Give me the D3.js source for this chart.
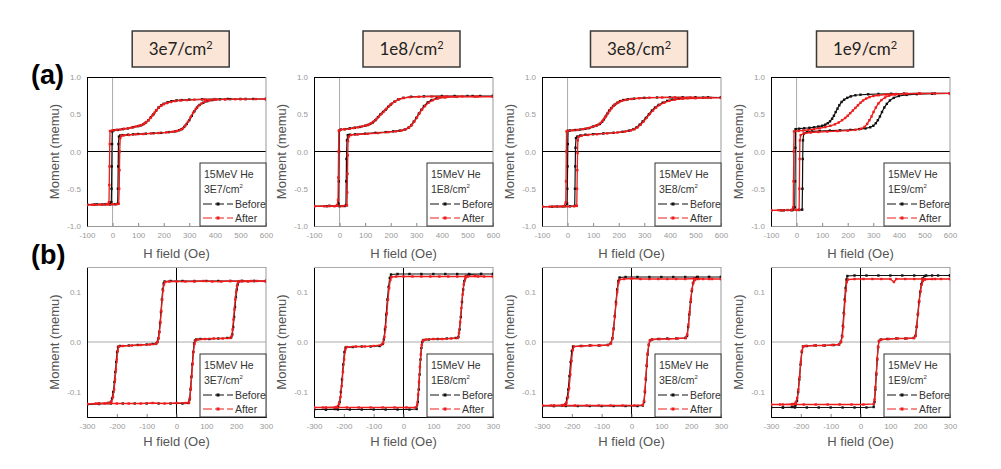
<!DOCTYPE html>
<html><head><meta charset="utf-8">
<script src="https://cdn.jsdelivr.net/npm/d3@7"></script>
<style>body{margin:0;background:#fff;} svg{display:block;font-family:Arial,"Liberation Sans",sans-serif;}</style>
</head><body><svg id="c" width="1001" height="469"></svg>
<script>
// ---------- labels ----------
const doseHeaders = ["3e7", "1e8", "3e8", "1e9"];
const doseLegend = ["3E7", "1E8", "3E8", "1E9"];
const seriesNames = ["Before", "After"];
const beamLabel = "15MeV He";
const rowLabels = ["(a)", "(b)"];
const topXTicks = [-100, 0, 100, 200, 300, 400, 500, 600];
const topYTicks = [1.0, 0.5, 0.0, -0.5, -1.0];
const botXTicks = [-300, -200, -100, 0, 100, 200, 300];
const botYTicks = [0.1, 0.0, -0.1];

// ---------- (a) minor loops: [H (Oe), M (memu)] ----------
const a1Before = [[600,0.705],[550,0.705],[500,0.705],[450,0.705],[400,0.703],[350,0.70],[300,0.697],[270,0.69],[250,0.685],[230,0.675],[215,0.66],[200,0.64],[190,0.62],[180,0.59],[170,0.55],[160,0.50],[150,0.46],[140,0.42],[130,0.39],[120,0.365],[110,0.35],[100,0.34],[80,0.325],[60,0.31],[40,0.30],[20,0.29],[5,0.285],[-1,0.27],[-2,0.1],[-3,-0.2],[-4,-0.5],[-5,-0.68],[-10,-0.705],[-30,-0.71],[-60,-0.71],[-100,-0.712],
[-100,-0.712],[-70,-0.71],[-40,-0.71],[-10,-0.71],[10,-0.708],[20,-0.70],[21,-0.5],[22,-0.2],[23,0.1],[25,0.2],[30,0.215],[40,0.22],[60,0.225],[80,0.23],[100,0.235],[130,0.24],[160,0.245],[190,0.25],[220,0.26],[245,0.27],[260,0.285],[270,0.30],[280,0.33],[290,0.37],[300,0.42],[310,0.48],[320,0.54],[330,0.59],[340,0.625],[355,0.655],[370,0.675],[390,0.69],[420,0.70],[460,0.703],[520,0.705],[600,0.705]];
const a1After = [[600,0.703],[560,0.704],[520,0.703],[480,0.702],[440,0.70],[400,0.70],[360,0.698],[320,0.695],[290,0.69],[265,0.685],[245,0.677],[228,0.665],[212,0.65],[200,0.635],[190,0.615],[180,0.585],[172,0.555],[164,0.52],[156,0.485],[148,0.45],[140,0.42],[132,0.395],[124,0.375],[114,0.355],[104,0.345],[90,0.335],[75,0.322],[60,0.312],[45,0.305],[30,0.295],[15,0.29],[0,0.285],[-10,0.275],[-11,0.1],[-12,-0.2],[-13,-0.45],[-14,-0.68],[-20,-0.705],[-40,-0.712],[-70,-0.715],[-100,-0.718],
[-100,-0.718],[-80,-0.715],[-50,-0.712],[-20,-0.712],[0,-0.71],[15,-0.708],[24,-0.70],[26,-0.5],[27,-0.25],[28,0.0],[30,0.18],[34,0.21],[45,0.218],[65,0.222],[90,0.23],[120,0.235],[150,0.242],[180,0.248],[210,0.256],[235,0.265],[252,0.275],[265,0.29],[275,0.31],[285,0.35],[295,0.40],[305,0.46],[315,0.52],[325,0.57],[335,0.61],[348,0.645],[362,0.67],[380,0.687],[405,0.697],[440,0.70],[500,0.703],[600,0.705]];

const a2Before = [[600,0.745],[550,0.745],[500,0.745],[450,0.745],[400,0.745],[330,0.74],[280,0.735],[250,0.72],[230,0.70],[215,0.67],[200,0.63],[190,0.60],[180,0.56],[170,0.53],[160,0.50],[150,0.46],[140,0.42],[130,0.39],[120,0.37],[110,0.355],[100,0.345],[80,0.33],[60,0.32],[40,0.31],[20,0.30],[5,0.295],[-1,0.28],[-2,0.0],[-3,-0.4],[-4,-0.7],[-10,-0.725],[-40,-0.73],[-100,-0.735],
[-100,-0.735],[-50,-0.735],[0,-0.735],[20,-0.732],[25,-0.72],[26,-0.4],[27,-0.1],[29,0.15],[32,0.22],[40,0.225],[60,0.23],[100,0.24],[140,0.25],[180,0.26],[210,0.27],[235,0.28],[255,0.295],[270,0.32],[280,0.35],[290,0.40],[300,0.45],[310,0.51],[320,0.56],[330,0.61],[345,0.66],[360,0.69],[380,0.715],[410,0.73],[450,0.74],[520,0.745],[600,0.745]];
const a2After = [[600,0.735],[540,0.738],[480,0.74],[420,0.74],[360,0.738],[310,0.735],[275,0.73],[250,0.718],[232,0.70],[218,0.675],[205,0.645],[194,0.61],[184,0.575],[174,0.54],[164,0.505],[154,0.47],[144,0.435],[134,0.405],[124,0.38],[114,0.362],[102,0.348],[88,0.336],[72,0.325],[55,0.315],[38,0.305],[20,0.298],[5,0.292],[-3,0.28],[-4,0.0],[-5,-0.35],[-6,-0.65],[-10,-0.725],[-40,-0.732],[-100,-0.735],
[-100,-0.735],[-60,-0.735],[-20,-0.735],[10,-0.733],[29,-0.725],[30,-0.55],[31,-0.3],[32,-0.05],[33,0.14],[36,0.2],[45,0.222],[70,0.228],[110,0.238],[150,0.248],[190,0.26],[220,0.27],[242,0.28],[260,0.3],[272,0.325],[283,0.36],[293,0.405],[303,0.46],[313,0.515],[323,0.565],[334,0.61],[348,0.655],[365,0.69],[385,0.712],[415,0.727],[460,0.733],[530,0.735],[600,0.735]];

const a3Before = [[600,0.725],[550,0.727],[500,0.728],[450,0.728],[400,0.727],[350,0.725],[300,0.72],[260,0.71],[235,0.70],[218,0.69],[205,0.675],[195,0.655],[185,0.63],[178,0.61],[170,0.58],[163,0.55],[156,0.51],[149,0.47],[142,0.43],[135,0.40],[126,0.37],[114,0.35],[100,0.335],[85,0.315],[70,0.305],[50,0.295],[30,0.288],[10,0.282],[2,0.278],[1,0.1],[0,-0.2],[-1,-0.5],[-2,-0.7],[-10,-0.735],[-40,-0.738],[-100,-0.74],
[-100,-0.74],[-60,-0.74],[-20,-0.738],[10,-0.736],[28,-0.73],[29,-0.5],[30,-0.2],[31,0.05],[33,0.18],[38,0.2],[50,0.215],[70,0.225],[100,0.232],[140,0.242],[180,0.252],[215,0.265],[240,0.28],[258,0.3],[270,0.325],[282,0.36],[294,0.405],[306,0.45],[318,0.5],[330,0.55],[342,0.59],[356,0.625],[372,0.655],[390,0.68],[410,0.698],[435,0.71],[470,0.718],[530,0.723],[600,0.725]];
const a3After = [[600,0.72],[540,0.722],[480,0.725],[420,0.726],[370,0.725],[320,0.722],[280,0.715],[250,0.705],[228,0.693],[212,0.68],[200,0.662],[190,0.64],[181,0.615],[173,0.585],[166,0.555],[159,0.52],[152,0.485],[145,0.45],[138,0.415],[130,0.385],[120,0.36],[108,0.343],[94,0.328],[78,0.312],[60,0.3],[40,0.29],[20,0.284],[0,0.278],[-4,0.27],[-5,0.0],[-6,-0.4],[-7,-0.68],[-15,-0.735],[-50,-0.738],[-100,-0.742],
[-100,-0.742],[-70,-0.74],[-30,-0.738],[0,-0.737],[25,-0.735],[36,-0.73],[37,-0.5],[38,-0.25],[39,-0.02],[40,0.15],[43,0.195],[55,0.212],[80,0.222],[115,0.232],[155,0.243],[195,0.255],[225,0.268],[247,0.282],[262,0.3],[274,0.325],[286,0.36],[298,0.405],[310,0.455],[322,0.505],[334,0.55],[346,0.59],[360,0.625],[378,0.655],[398,0.68],[420,0.697],[450,0.708],[500,0.715],[560,0.72],[600,0.72]];

const a4Before = [[600,0.78],[540,0.78],[480,0.78],[420,0.778],[370,0.775],[320,0.772],[280,0.768],[250,0.762],[230,0.755],[212,0.74],[198,0.72],[186,0.695],[176,0.665],[167,0.62],[160,0.575],[153,0.53],[146,0.48],[139,0.44],[131,0.405],[122,0.38],[112,0.36],[100,0.345],[85,0.335],[68,0.325],[50,0.318],[30,0.312],[10,0.306],[-4,0.3],[-5,0.05],[-6,-0.4],[-7,-0.75],[-15,-0.785],[-50,-0.79],[-100,-0.792],
[-100,-0.792],[-60,-0.79],[-20,-0.788],[10,-0.785],[22,-0.78],[23,-0.5],[24,-0.1],[25,0.15],[28,0.24],[40,0.26],[60,0.27],[90,0.275],[130,0.28],[170,0.285],[210,0.29],[245,0.3],[270,0.31],[288,0.325],[300,0.345],[310,0.38],[318,0.42],[326,0.47],[334,0.53],[343,0.59],[353,0.64],[365,0.685],[380,0.72],[400,0.745],[430,0.76],[470,0.77],[530,0.775],[600,0.78]];
const a4After = [[600,0.78],[540,0.78],[480,0.779],[430,0.777],[390,0.772],[350,0.765],[320,0.755],[300,0.745],[285,0.73],[272,0.71],[260,0.685],[250,0.655],[240,0.62],[230,0.585],[220,0.55],[210,0.515],[200,0.48],[190,0.45],[178,0.42],[165,0.39],[150,0.365],[132,0.345],[112,0.328],[90,0.312],[68,0.3],[46,0.29],[26,0.282],[8,0.276],[-10,0.27],[-11,0.0],[-12,-0.4],[-13,-0.75],[-20,-0.785],[-55,-0.79],[-100,-0.79],
[-100,-0.79],[-70,-0.788],[-35,-0.786],[0,-0.784],[10,-0.78],[11,-0.5],[12,-0.1],[13,0.15],[16,0.22],[30,0.245],[55,0.255],[85,0.262],[120,0.268],[160,0.274],[200,0.28],[230,0.29],[252,0.305],[266,0.33],[276,0.37],[285,0.42],[293,0.47],[301,0.53],[310,0.59],[320,0.645],[332,0.69],[346,0.725],[362,0.75],[385,0.765],[420,0.775],[480,0.778],[600,0.78]];

// ---------- (b) major loops ----------
const b1Before = [[300,0.122],[260,0.122],[220,0.122],[180,0.122],[140,0.122],[100,0.122],[60,0.122],[20,0.122],[-20,0.122],[-40,0.121],[-43,0.117],[-46,0.105],[-49,0.085],[-52,0.06],[-55,0.038],[-58,0.02],[-61,0.007],[-64,0.0],[-68,-0.003],[-80,-0.004],[-100,-0.005],[-130,-0.006],[-160,-0.007],[-190,-0.008],[-196,-0.01],[-199,-0.02],[-202,-0.04],[-205,-0.06],[-208,-0.08],[-212,-0.1],[-216,-0.113],[-220,-0.12],[-230,-0.122],[-260,-0.123],[-300,-0.125],
[-300,-0.125],[-260,-0.124],[-220,-0.123],[-180,-0.123],[-140,-0.123],[-100,-0.123],[-60,-0.123],[-20,-0.123],[20,-0.123],[40,-0.122],[44,-0.115],[47,-0.095],[50,-0.07],[53,-0.045],[56,-0.02],[59,-0.003],[62,0.003],[66,0.005],[80,0.006],[110,0.006],[140,0.007],[170,0.008],[183,0.009],[187,0.015],[190,0.03],[193,0.05],[196,0.07],[199,0.09],[202,0.105],[205,0.115],[209,0.121],[220,0.122],[260,0.122],[300,0.122]];
const b1After = [[300,0.121],[270,0.122],[240,0.121],[210,0.121],[180,0.122],[150,0.121],[120,0.121],[90,0.122],[60,0.121],[30,0.121],[0,0.121],[-25,0.121],[-38,0.12],[-42,0.115],[-45,0.103],[-48,0.085],[-51,0.062],[-54,0.04],[-57,0.02],[-60,0.008],[-64,0.0],[-70,-0.004],[-90,-0.005],[-120,-0.006],[-150,-0.007],[-180,-0.008],[-194,-0.009],[-197,-0.018],[-200,-0.035],[-203,-0.055],[-206,-0.075],[-209,-0.095],[-213,-0.11],[-218,-0.119],[-228,-0.122],[-260,-0.123],[-300,-0.124],
[-300,-0.124],[-270,-0.123],[-240,-0.123],[-200,-0.123],[-160,-0.123],[-120,-0.123],[-80,-0.122],[-40,-0.123],[0,-0.122],[30,-0.122],[42,-0.121],[45,-0.112],[48,-0.092],[51,-0.068],[54,-0.043],[57,-0.02],[60,-0.004],[64,0.003],[72,0.005],[95,0.006],[125,0.007],[155,0.007],[180,0.008],[185,0.012],[188,0.025],[191,0.045],[194,0.065],[197,0.085],[200,0.1],[203,0.112],[207,0.12],[215,0.122],[250,0.122],[300,0.122]];

const b2Before = [[300,0.136],[260,0.136],[220,0.136],[180,0.136],[140,0.136],[100,0.136],[60,0.136],[20,0.136],[-20,0.136],[-42,0.135],[-46,0.128],[-50,0.11],[-54,0.085],[-58,0.055],[-62,0.025],[-66,0.005],[-70,-0.004],[-80,-0.008],[-110,-0.009],[-140,-0.009],[-170,-0.01],[-194,-0.011],[-198,-0.02],[-202,-0.045],[-206,-0.075],[-210,-0.1],[-214,-0.12],[-219,-0.13],[-230,-0.134],[-260,-0.135],[-300,-0.135],
[-300,-0.135],[-260,-0.135],[-220,-0.135],[-180,-0.135],[-140,-0.135],[-100,-0.135],[-60,-0.135],[-20,-0.135],[20,-0.135],[44,-0.134],[48,-0.12],[51,-0.095],[54,-0.065],[57,-0.035],[60,-0.012],[63,0.0],[67,0.004],[85,0.005],[115,0.006],[145,0.007],[175,0.008],[184,0.01],[188,0.025],[192,0.05],[196,0.08],[200,0.105],[204,0.122],[209,0.132],[220,0.135],[260,0.136],[300,0.136]];
const b2After = [[300,0.131],[270,0.131],[240,0.132],[210,0.131],[180,0.131],[150,0.131],[120,0.131],[90,0.131],[60,0.131],[30,0.131],[0,0.131],[-25,0.131],[-40,0.13],[-44,0.124],[-48,0.108],[-52,0.085],[-56,0.058],[-60,0.03],[-64,0.01],[-68,-0.002],[-75,-0.006],[-100,-0.008],[-130,-0.009],[-160,-0.009],[-190,-0.01],[-195,-0.015],[-199,-0.035],[-203,-0.06],[-207,-0.088],[-211,-0.11],[-216,-0.124],[-225,-0.13],[-260,-0.131],[-300,-0.131],
[-300,-0.131],[-270,-0.131],[-230,-0.131],[-190,-0.131],[-150,-0.131],[-110,-0.131],[-70,-0.131],[-30,-0.131],[10,-0.131],[40,-0.131],[46,-0.125],[49,-0.105],[52,-0.08],[55,-0.05],[58,-0.025],[61,-0.006],[65,0.003],[75,0.005],[100,0.006],[130,0.006],[160,0.007],[182,0.008],[186,0.018],[190,0.04],[194,0.068],[198,0.095],[202,0.115],[207,0.127],[215,0.131],[250,0.131],[300,0.131]];

const b3Before = [[300,0.13],[260,0.13],[220,0.13],[180,0.13],[140,0.13],[100,0.13],[60,0.13],[20,0.13],[-20,0.13],[-40,0.129],[-44,0.122],[-48,0.105],[-52,0.08],[-56,0.052],[-60,0.027],[-64,0.008],[-69,-0.002],[-80,-0.006],[-110,-0.007],[-140,-0.007],[-170,-0.008],[-196,-0.009],[-200,-0.018],[-204,-0.04],[-208,-0.068],[-212,-0.095],[-216,-0.113],[-221,-0.124],[-232,-0.127],[-260,-0.128],[-300,-0.128],
[-300,-0.128],[-260,-0.128],[-220,-0.128],[-180,-0.128],[-140,-0.128],[-100,-0.128],[-60,-0.128],[-20,-0.128],[20,-0.128],[38,-0.127],[42,-0.12],[45,-0.1],[48,-0.075],[51,-0.048],[54,-0.025],[58,-0.006],[62,0.003],[68,0.005],[90,0.006],[120,0.007],[150,0.007],[180,0.008],[186,0.012],[190,0.03],[194,0.055],[198,0.08],[202,0.102],[206,0.118],[211,0.127],[222,0.13],[260,0.13],[300,0.13]];
const b3After = [[300,0.126],[270,0.126],[240,0.126],[210,0.127],[180,0.126],[150,0.126],[120,0.126],[90,0.126],[60,0.126],[30,0.126],[0,0.127],[-25,0.126],[-40,0.125],[-44,0.118],[-48,0.1],[-52,0.076],[-56,0.05],[-60,0.025],[-64,0.007],[-69,-0.003],[-78,-0.006],[-105,-0.007],[-135,-0.007],[-165,-0.008],[-193,-0.009],[-197,-0.016],[-201,-0.038],[-205,-0.065],[-209,-0.092],[-213,-0.11],[-218,-0.122],[-228,-0.126],[-260,-0.127],[-300,-0.127],
[-300,-0.127],[-270,-0.127],[-230,-0.127],[-190,-0.127],[-150,-0.127],[-110,-0.127],[-70,-0.127],[-30,-0.127],[10,-0.127],[38,-0.126],[42,-0.118],[45,-0.098],[48,-0.072],[51,-0.046],[54,-0.023],[58,-0.005],[62,0.003],[70,0.005],[95,0.006],[125,0.006],[155,0.007],[182,0.008],[187,0.015],[191,0.035],[195,0.06],[199,0.085],[203,0.105],[207,0.118],[212,0.124],[225,0.126],[260,0.126],[300,0.126]];

const b4Before = [[300,0.133],[260,0.133],[220,0.133],[180,0.133],[140,0.133],[100,0.133],[60,0.133],[20,0.133],[-20,0.133],[-44,0.132],[-47,0.125],[-50,0.108],[-53,0.085],[-56,0.058],[-59,0.032],[-62,0.012],[-66,0.0],[-72,-0.005],[-90,-0.006],[-120,-0.007],[-150,-0.007],[-180,-0.008],[-193,-0.009],[-197,-0.02],[-201,-0.045],[-205,-0.075],[-209,-0.1],[-213,-0.118],[-218,-0.127],[-230,-0.13],[-260,-0.131],[-300,-0.131],
[-300,-0.131],[-260,-0.131],[-220,-0.131],[-180,-0.131],[-140,-0.131],[-100,-0.131],[-60,-0.131],[-20,-0.131],[20,-0.131],[44,-0.13],[47,-0.12],[50,-0.095],[53,-0.065],[56,-0.035],[59,-0.01],[62,0.002],[68,0.005],[90,0.006],[120,0.007],[150,0.007],[178,0.008],[184,0.012],[188,0.03],[192,0.055],[196,0.08],[200,0.1],[204,0.116],[208,0.127],[215,0.132],[240,0.133],[300,0.133]];
const b4After = [[300,0.126],[270,0.126],[240,0.126],[210,0.126],[180,0.126],[150,0.126],[120,0.126],[112,0.12],[100,0.126],[70,0.126],[40,0.126],[10,0.126],[-20,0.126],[-42,0.125],[-46,0.12],[-49,0.103],[-52,0.082],[-55,0.056],[-58,0.03],[-61,0.011],[-65,0.0],[-72,-0.005],[-95,-0.006],[-125,-0.007],[-155,-0.007],[-185,-0.008],[-192,-0.009],[-196,-0.018],[-200,-0.04],[-204,-0.07],[-208,-0.095],[-212,-0.112],[-217,-0.121],[-228,-0.124],[-260,-0.125],[-300,-0.125],
[-300,-0.125],[-270,-0.125],[-230,-0.125],[-190,-0.125],[-150,-0.125],[-110,-0.125],[-70,-0.125],[-30,-0.125],[10,-0.125],[44,-0.124],[47,-0.115],[50,-0.09],[53,-0.062],[56,-0.033],[59,-0.01],[62,0.002],[70,0.005],[95,0.006],[125,0.007],[155,0.007],[180,0.008],[185,0.013],[189,0.032],[193,0.057],[197,0.082],[201,0.102],[205,0.115],[209,0.122],[216,0.125],[250,0.126],[300,0.126]];

// ---------- drawing ----------
const svg = d3.select("#c");
const panelX = [87, 314, 542, 771];
const PW = 179;
const BLACK = "#111", RED = "#ee1c1c";

const rows = [
  {y: 77, h: 149, xd: [-100, 600], yd: [-1, 1], xt: topXTicks, yt: topYTicks,
   data: [[a1Before, a1After], [a2Before, a2After], [a3Before, a3After], [a4Before, a4After]],
   hLineColor: "#000", vLineColor: "#aaa", topC: "#000", botC: "#999", titleY: 258, labY: 84},
  {y: 267, h: 150, xd: [-300, 300], yd: [-0.15, 0.15], xt: botXTicks, yt: botYTicks,
   data: [[b1Before, b1After], [b2Before, b2After], [b3Before, b3After], [b4Before, b4After]],
   hLineColor: "#aaa", vLineColor: "#000", topC: "#aaa", botC: "#000", titleY: 446, labY: 264}
];

// header boxes
const headerCx = [180.7, 411.5, 639, 865];
doseHeaders.forEach((d, i) => {
  const g = svg.append("g").attr("transform", `translate(${headerCx[i] - 48.5},31)`);
  g.append("rect").attr("width", 97).attr("height", 36).attr("fill", "#fbe5d6")
    .attr("stroke", "#3a3a3a").attr("stroke-width", 1.5);
  const t = g.append("text").attr("x", 48.5).attr("y", 24).attr("text-anchor", "middle")
    .attr("font-family", "Lato, 'Open Sans', sans-serif").attr("font-size", 17).attr("fill", "#222");
  t.append("tspan").text(d + "/cm");
  t.append("tspan").attr("dy", -6).attr("font-size", 11).text("2");
});

rows.forEach((row, ri) => {
  svg.append("text").attr("x", 31).attr("y", row.labY).attr("font-size", 27)
    .attr("font-weight", "bold").attr("fill", "#000").text(rowLabels[ri]);

  row.data.forEach((pair, pi) => {
    const px = panelX[pi];
    const g = svg.append("g").attr("transform", `translate(${px},${row.y})`);
    const x = d3.scaleLinear(row.xd, [0, PW]);
    const y = d3.scaleLinear(row.yd, [row.h, 0]);
    const cid = `clip${ri}${pi}`;
    g.append("clipPath").attr("id", cid).append("rect").attr("width", PW).attr("height", row.h);

    // zero lines
    g.append("line").attr("x1", 0).attr("x2", PW).attr("y1", y(0)).attr("y2", y(0))
      .attr("stroke", row.hLineColor).attr("stroke-width", 1);
    g.append("line").attr("x1", x(0)).attr("x2", x(0)).attr("y1", 0).attr("y2", row.h)
      .attr("stroke", row.vLineColor).attr("stroke-width", 1);

    // axes (ticks + labels)
    const xa = g.append("g").attr("transform", `translate(0,${row.h})`)
      .call(d3.axisBottom(x).tickValues(row.xt).tickSize(-3).tickPadding(6).tickFormat(d => String(d)));
    xa.select(".domain").attr("stroke", row.botC);
    xa.selectAll(".tick line").attr("stroke", "#888");
    xa.selectAll(".tick text").attr("fill", "#999").attr("font-size", 8)
      .attr("font-family", "Arial, 'Liberation Sans', sans-serif");
    const ya = g.append("g")
      .call(d3.axisLeft(y).tickValues(row.yt).tickSize(0).tickPadding(6).tickFormat(d => d.toFixed(1)));
    ya.select(".domain").attr("stroke", "#000");
    ya.selectAll(".tick text").attr("fill", "#999").attr("font-size", 8)
      .attr("font-family", "Arial, 'Liberation Sans', sans-serif");

    // frame top / right
    g.append("line").attr("x1", 0).attr("x2", PW).attr("y1", 0.5).attr("y2", 0.5).attr("stroke", row.topC);
    g.append("line").attr("x1", PW).attr("x2", PW).attr("y1", 0).attr("y2", row.h).attr("stroke", "#999");

    // data
    const line = d3.line().x(d => x(d[0])).y(d => y(d[1]));
    const dg = g.append("g").attr("clip-path", `url(#${cid})`);
    pair.forEach((ser, si) => {
      const col = si === 0 ? BLACK : RED;
      dg.append("path").datum(ser).attr("d", line).attr("fill", "none")
        .attr("stroke", col).attr("stroke-width", si === 0 ? 1.2 : 1.3);
      dg.selectAll(null).data(ser).enter().append("rect")
        .attr("x", d => x(d[0]) - 1.2).attr("y", d => y(d[1]) - 1.2)
        .attr("width", 2.4).attr("height", 2.4).attr("fill", col);
    });

    // axis titles
    svg.append("text").attr("transform", `translate(${px - 28},${row.y + row.h / 2}) rotate(-90)`)
      .attr("text-anchor", "middle").attr("font-size", 13).attr("fill", "#555").text("Moment (memu)");
    svg.append("text").attr("x", px + PW / 2).attr("y", row.titleY).attr("text-anchor", "middle")
      .attr("font-size", 13).attr("fill", "#555").text("H field (Oe)");

    // legend
    const LW = 66, LH = 63;
    const lg = g.append("g").attr("transform", `translate(${PW - LW},${row.h - LH})`);
    lg.append("rect").attr("width", LW).attr("height", LH).attr("fill", "#fff").attr("stroke", "#333");
    lg.append("text").attr("x", 4).attr("y", 15).attr("font-size", 10.5).attr("fill", "#333").text(beamLabel);
    const dt = lg.append("text").attr("x", 4).attr("y", 30).attr("font-size", 10.5).attr("fill", "#333");
    dt.append("tspan").text(doseLegend[pi] + "/cm");
    dt.append("tspan").attr("dy", -5).attr("font-size", 6).text("2");
    seriesNames.forEach((nm, si) => {
      const col = si === 0 ? BLACK : RED;
      const yy = 41 + si * 14;
      lg.append("line").attr("x1", 3).attr("x2", 33).attr("y1", yy).attr("y2", yy)
        .attr("stroke", col).attr("stroke-width", 1).attr("stroke-dasharray", "9,3");
      lg.append("rect").attr("x", 16.5).attr("y", yy - 1.5).attr("width", 3).attr("height", 3).attr("fill", col);
      lg.append("text").attr("x", 35).attr("y", yy + 4).attr("font-size", 10.5).attr("fill", "#333").text(nm);
    });
  });
});
</script>
</body></html>
